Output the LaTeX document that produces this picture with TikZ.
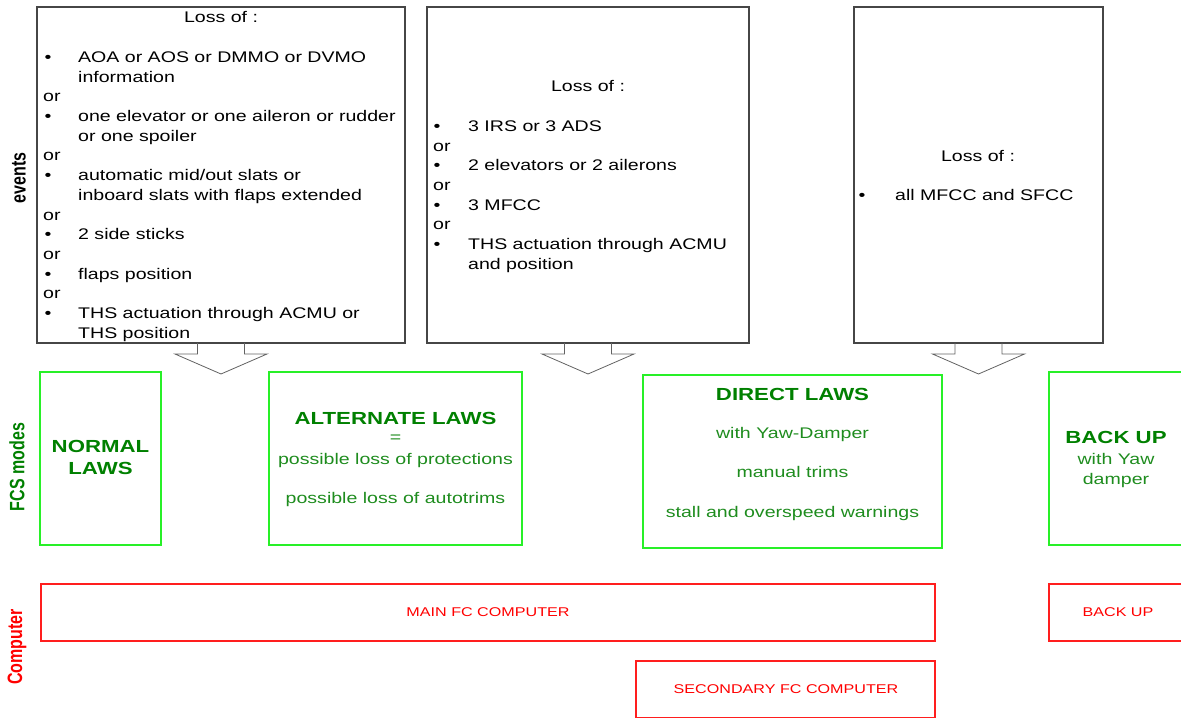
\documentclass[tikz,border=0pt]{standalone}
\usepackage{fontspec}
\setmainfont{Liberation Sans}[FakeStretch=1.27]
\newfontfamily\rotfont{Liberation Sans}
\usepackage{graphicx}
\usetikzlibrary{calc}
\definecolor{evgray}{RGB}{70,70,70}
\definecolor{boxgreen}{RGB}{40,240,40}
\definecolor{txgreen}{RGB}{0,128,0}
\definecolor{lightgreen}{RGB}{30,140,30}
\definecolor{boxred}{RGB}{255,30,30}
\definecolor{txred}{RGB}{255,0,0}
\tikzset{
  evbox/.style={draw=evgray, line width=1.2pt, inner sep=0, outer sep=0, anchor=north west},
  modebox/.style={draw=boxgreen, line width=1.8pt, inner sep=0, outer sep=0, anchor=north west},
  compbox/.style={draw=boxred, line width=1.5pt, inner sep=0, outer sep=0, anchor=north west},
  evtext/.style={inner sep=0, font=\fontsize{15.4}{19.7}\selectfont, text=black},
  modetitle/.style={inner sep=0, font=\fontsize{17.5}{21}\selectfont\bfseries, text=txgreen, anchor=base},
  modetext/.style={inner sep=0, font=\fontsize{15.4}{19}\selectfont, text=lightgreen, anchor=base},
  comptext/.style={inner sep=0, font=\fontsize{12.7}{15}\selectfont, text=txred, anchor=base},
  rowlabel/.style={inner sep=0, rotate=90, font=\rotfont\bfseries\fontsize{16}{19}\selectfont},
  blockarrow/.style={draw=evgray!85, line width=0.8pt, line join=miter}
}
\newcommand\evline[4]{\node[evtext,anchor=base west] (#1) at (#2,#3+5.5) {#4};}
\newcommand\evbul[3]{\node[evtext,anchor=base] (#1) at (#2,#3+5.5) {\textbullet};}
\newcommand\evhead[3]{\node[evtext,anchor=base] (#1) at (#2,#3+5.5) {Loss of :};}
\begin{document}
\begin{tikzpicture}[x=1pt,y=-1pt]
\clip (0,0) rectangle (1181,719);
\useasboundingbox (0,0) rectangle (1181,719);

% event boxes
\node[evbox, minimum width=368, minimum height=336] (e1) at (37,7) {};
\node[evbox, minimum width=322, minimum height=336] (e2) at (427,7) {};
\node[evbox, minimum width=249, minimum height=336] (e3) at (854,7) {};

% block arrows
\foreach \b in {e1,e2,e3}{
  \draw[blockarrow] ([xshift=-23.5pt]\b.south) -- ++(0,11) -- ++(-22.5,0) -- ++(46,20) -- ++(46,-20) -- ++(-22.5,0) -- ++(0,-11);
}

% event texts box 1
\evhead{e1h}{221}{17}
\evbul{e1b1}{48}{57}   \evline{e1t1}{78}{57}{AOA or AOS or DMMO or DVMO}
\evline{e1t1b}{78}{76.7}{information}
\evline{e1o1}{43}{96.4}{or}
\evbul{e1b2}{48}{116.1} \evline{e1t2}{78}{116.1}{one elevator or one aileron or rudder}
\evline{e1t2b}{78}{135.8}{or one spoiler}
\evline{e1o2}{43}{155.5}{or}
\evbul{e1b3}{48}{175.2} \evline{e1t3}{78}{175.2}{automatic mid/out slats or}
\evline{e1t3b}{78}{194.9}{inboard slats with flaps extended}
\evline{e1o3}{43}{214.6}{or}
\evbul{e1b4}{48}{234.3} \evline{e1t4}{78}{234.3}{2 side sticks}
\evline{e1o4}{43}{254}{or}
\evbul{e1b5}{48}{273.7} \evline{e1t5}{78}{273.7}{flaps position}
\evline{e1o5}{43}{293.4}{or}
\evbul{e1b6}{48}{313.1} \evline{e1t6}{78}{313.1}{THS actuation through ACMU or}
\evline{e1t6b}{78}{332.8}{THS position}

% event texts box 2
\evhead{e2h}{588}{86}
\evbul{e2b1}{437}{126}   \evline{e2t1}{468}{126}{3 IRS or 3 ADS}
\evline{e2o1}{433}{145.7}{or}
\evbul{e2b2}{437}{165.4} \evline{e2t2}{468}{165.4}{2 elevators or 2 ailerons}
\evline{e2o2}{433}{185.1}{or}
\evbul{e2b3}{437}{204.8} \evline{e2t3}{468}{204.8}{3 MFCC}
\evline{e2o3}{433}{224.5}{or}
\evbul{e2b4}{437}{244.2} \evline{e2t4}{468}{244.2}{THS actuation through ACMU}
\evline{e2t4b}{468}{263.9}{and position}

% event texts box 3
\evhead{e3h}{978}{156}
\evbul{e3b1}{862}{195} \evline{e3t1}{895}{195}{all MFCC and SFCC}

% mode boxes
\node[modebox, minimum width=121, minimum height=173] (normal) at (40,372) {};
\node[modebox, minimum width=253, minimum height=173] (alternate) at (269,372) {};
\node[modebox, minimum width=299, minimum height=173] (direct) at (643,375) {};
\node[modebox, minimum width=150, minimum height=173] (backupg) at (1049,372) {};

\node[modetitle] (n1) at (100.5,452.3) {NORMAL};
\node[modetitle] (n2) at (100.5,474.3) {LAWS};
\node[modetitle] (a1) at (395.5,424.3) {ALTERNATE LAWS};
\node[modetext, anchor=center] (a2) at (395.5,439) {=};
\node[modetext] (a3) at (395.5,464.5) {possible loss of protections};
\node[modetext] (a4) at (395.5,503.5) {possible loss of autotrims};
\node[modetitle] (d1) at (792.5,400.3) {DIRECT LAWS};
\node[modetext] (d2) at (792.5,438.5) {with Yaw-Damper};
\node[modetext] (d3) at (792.5,477.5) {manual trims};
\node[modetext] (d4) at (792.5,517.5) {stall and overspeed warnings};
\node[modetitle] (b1) at (1116,443.3) {BACK UP};
\node[modetext] (b2) at (1116,464.5) {with Yaw};
\node[modetext] (b3) at (1116,484.5) {damper};

% computer boxes
\node[compbox, minimum width=894, minimum height=57] (main) at (41,584) {};
\node[compbox, minimum width=150, minimum height=57] (backupr) at (1049,584) {};
\node[compbox, minimum width=299, minimum height=56.5] (secondary) at (636,661) {};
\node[comptext] (mt) at (488,616.5) {MAIN FC COMPUTER};
\node[comptext] (bt) at (1118,616.5) {BACK UP};
\node[comptext] (st) at (786,693.5) {SECONDARY FC COMPUTER};

% row labels
\node[rowlabel, text=black] (lev) at (19,178) {\scalebox{1}[1.3]{events}};
\node[rowlabel, text=txgreen] (lfcs) at (17,467) {\scalebox{1}[1.3]{FCS modes}};
\node[rowlabel, text=txred] (lcomp) at (17,647) {\scalebox{1}[1.3]{Computer}};
\end{tikzpicture}
\end{document}
